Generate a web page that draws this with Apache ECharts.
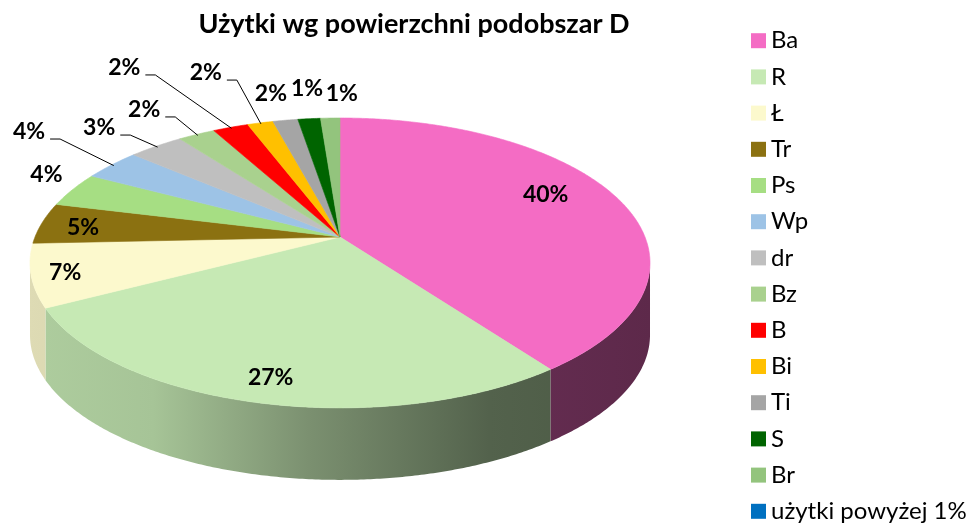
<!DOCTYPE html>
<html><head><meta charset="utf-8">
<script src="https://cdn.jsdelivr.net/npm/echarts@6/dist/echarts.min.js"></script>
<style>html,body{margin:0;padding:0;background:#fff}#c{width:972px;height:524px}</style>
</head><body><div id="c"></div>
<script>
// ---- data ----
const titleText = 'Użytki wg powierzchni podobszar D';
const categories = ['Ba','R','Ł','Tr','Ps','Wp','dr','Bz','B','Bi','Ti','S','Br','użytki powyżej 1%'];
const values = [39.95,27.35,7.0,4.6,3.9,3.55,3.4,2.3,2.2,1.6,1.55,1.4,1.2,0];
const colors = ['#F46CC4','#C6E9B4','#FCF9CD','#8B7111','#A6DE83','#9DC3E6','#BFBFBF','#A9D18E','#FF0000','#FFC000','#A5A5A5','#006400','#93C47D','#0070C0'];

// ---- layout / style (not data) ----
const PIE = {cx:340, cy:237, A:305, B:140.3, k:0.179, depth:72};
// [label radius, angle offset (deg), leader line 0/1]
const labelPlacement = [[0.78,-5.9,0],[0.87,-0.25,0],[0.895,-0.4,0],[0.855,-1.4,0],[1.15,3.6,0],
  [1.318,2.8,1],[1.15,-0.4,1],[1.195,0.5,1],[1.644,-3.0,1],[1.461,1.0,1],[1.28,-0.35,0],[1.31,1.0,0],[1.25,2.5,0],[1,0,0]];
const FONT = 'Lato, "Open Sans", sans-serif';

const total = values.reduce((a,b)=>a+b,0);
const starts = []; { let acc=0; values.forEach(v=>{starts.push(acc/total*360); acc+=v;}); }

function proj(rho, tDeg){
  const t = tDeg*Math.PI/180;
  const u = rho*Math.sin(t), v = -rho*Math.cos(t);
  const w = 1 - PIE.k*v;
  return [PIE.cx + PIE.A*u/w, PIE.cy + PIE.B*v/w];
}
function arcPts(t0,t1,dy){
  const n = Math.max(2, Math.ceil((t1-t0)/0.5)); const pts=[];
  for(let j=0;j<=n;j++){ const p=proj(1,t0+(t1-t0)*j/n); pts.push([p[0],p[1]+dy]); }
  return pts;
}
function shade(hex,f){
  const n=parseInt(hex.slice(1),16);
  const r=Math.round(((n>>16)&255)*f), g=Math.round(((n>>8)&255)*f), b=Math.round((n&255)*f);
  return 'rgb('+r+','+g+','+b+')';
}
const tR = Math.acos(-PIE.k)*180/Math.PI, tL = 360 - tR;

function makeRender(i){
  return function(params, api){
    const v = values[i];
    if (!(v > 0)) return {type:'group', children:[]};
    const t0 = starts[i], t1 = t0 + v/total*360, mid = (t0+t1)/2;
    const col = colors[i];
    const children = [];
    // side wall
    const a = Math.max(t0,tR), b = Math.min(t1,tL);
    if (b > a){
      const top = arcPts(a,b,0), bot = arcPts(a,b,PIE.depth).reverse();
      children.push({type:'polygon', z2:1, shape:{points: top.concat(bot)},
        style:{fill:{type:'linear', x:PIE.cx-PIE.A*1.02, y:0, x2:PIE.cx+PIE.A*1.02, y2:0, global:true,
          colorStops:[{offset:0,color:shade(col,0.88)},{offset:0.2,color:shade(col,0.84)},{offset:0.45,color:shade(col,0.62)},
                      {offset:0.74,color:shade(col,0.42)},{offset:1,color:shade(col,0.38)}]},
          stroke:null}});
    }
    // top face
    const c = proj(0,0);
    children.push({type:'polygon', z2:2, shape:{points:[c].concat(arcPts(t0,t1,0))},
      style:{fill:col, stroke:col, lineWidth:0.6}});
    // label
    const lp = labelPlacement[i];
    const txt = Math.round(v/total*100) + '%';
    const pt = proj(lp[0], mid + lp[1]);
    if (lp[2]){
      const e = proj(0.99, mid);
      children.push({type:'polyline', z2:50, shape:{points:[e, pt, [pt[0]-10, pt[1]]]},
        style:{stroke:'#000', lineWidth:1, fill:null}});
      children.push({type:'text', z2:100, x:pt[0]-15, y:pt[1]-7,
        style:{text:txt, fill:'#000', font:'bold 23px '+FONT, align:'right', verticalAlign:'middle'}});
    } else {
      children.push({type:'text', z2:100, x:pt[0], y:pt[1],
        style:{text:txt, fill:'#000', font:'bold 23px '+FONT, align:'center', verticalAlign:'middle'}});
    }
    return {type:'group', children};
  };
}

const chart = echarts.init(document.getElementById('c'), null, {renderer:'canvas'});
chart.setOption({
  animation:false,
  backgroundColor:'#fff',
  title:{text:titleText, left:409, top:6, textAlign:'center',
    textStyle:{fontFamily:FONT, fontWeight:'bold', fontSize:27, color:'#000'}},
  legend:{orient:'vertical', left:746, top:23.7, height:600, itemWidth:15, itemHeight:15, itemGap:12.2, icon:'rect',
    data:categories,
    textStyle:{fontFamily:FONT, fontSize:24, lineHeight:22, color:'#000'}},
  series: categories.map((name,i)=>({
    type:'custom', name:name, coordinateSystem:'none',
    color:colors[i], itemStyle:{color:colors[i]},
    data:[[values[i]]],
    renderItem: makeRender(i)
  }))
});
</script></body></html>
